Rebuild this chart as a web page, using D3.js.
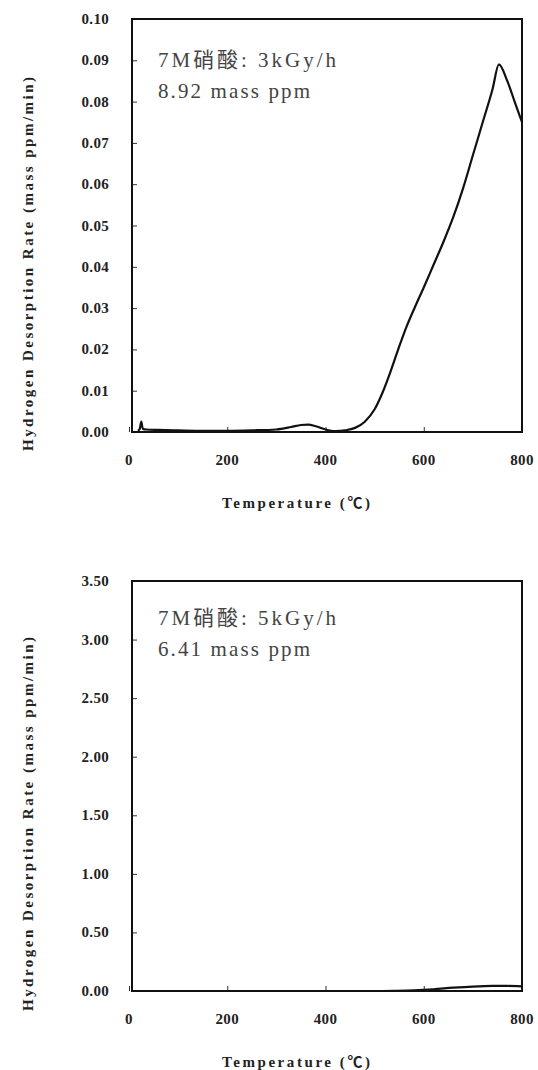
<!DOCTYPE html>
<html>
<head>
<meta charset="utf-8">
<script src="https://cdn.jsdelivr.net/npm/d3@7"></script>
<style>
  body { margin: 0; background: #fff; }
  svg { display: block; }
  text { font-family: "Liberation Serif", "Times New Roman", "Noto Sans CJK SC", serif; fill: #222; }
</style>
</head>
<body>
<div id="chart"></div>
<script>
// temperature ticks shared by both panels
const xTicks = [0, 200, 400, 600, 800]

// panel 1: 3kGy/h
const temps1 = [18, 22, 25, 28, 35, 60, 100, 150, 200, 250, 300, 330, 350, 365, 380, 400, 420, 440, 460, 480, 500, 516, 532, 548, 565, 583, 600, 620, 640, 660, 680, 700, 720, 740, 753, 770, 785, 800]
const rate1 = [0.0003, 0.0008, 0.0025, 0.0008, 0.0006, 0.0005, 0.0004, 0.0003, 0.0003, 0.0004, 0.0006, 0.0012, 0.0017, 0.0018, 0.0014, 0.0006, 0.0002, 0.0004, 0.001, 0.0025, 0.0055, 0.0095, 0.0145, 0.02, 0.0255, 0.0305, 0.035, 0.0405, 0.046, 0.052, 0.059, 0.067, 0.075, 0.083, 0.089, 0.085, 0.08, 0.075]
const yTicks1 = [0, 0.01, 0.02, 0.03, 0.04, 0.05, 0.06, 0.07, 0.08, 0.09, 0.10]
const note1 = ["7M硝酸: 3kGy/h", "8.92 mass ppm"]

// panel 2: 5kGy/h
const temps2 = [20, 100, 200, 300, 400, 500, 540, 580, 620, 660, 700, 740, 770, 800]
const rate2 = [0, 0, 0, 0, 0, 0, 0.002, 0.006, 0.015, 0.028, 0.038, 0.043, 0.043, 0.04]
const yTicks2 = [0, 0.5, 1.0, 1.5, 2.0, 2.5, 3.0, 3.5]
const note2 = ["7M硝酸: 5kGy/h", "6.41 mass ppm"]

const W = 538, H = 1070
let svg = d3.select("#chart").append("svg")
    .attr("width", W)
    .attr("height", H)

function drawPanel(opt){
    let g = svg.append("g")
    let x = d3.scaleLinear().domain([0, 800]).range([129, 522])
    let y = d3.scaleLinear().domain([0, opt.ymax]).range([opt.bottom, opt.top])
    let left = 132, right = 522

    // inward ticks
    g.append("g")
        .attr("transform", "translate(" + left + ",0)")
        .call(d3.axisRight(y).tickValues(opt.yTicks).tickSize(5).tickFormat(""))
        .call(a => a.select(".domain").remove())
        .selectAll("line").attr("stroke", "#333")
    g.append("g")
        .attr("transform", "translate(0," + opt.bottom + ")")
        .call(d3.axisTop(x).tickValues(xTicks).tickSize(5).tickFormat(""))
        .call(a => a.select(".domain").remove())
        .selectAll("line").attr("stroke", "#333")

    // tick labels
    g.selectAll(".ylab").data(opt.yTicks).enter().append("text")
        .attr("x", 109)
        .attr("y", d => y(d) + 5)
        .attr("text-anchor", "end")
        .style("font-size", "15px")
        .style("font-weight", "bold")
        .style("letter-spacing", "0.3px")
        .text(d => d.toFixed(2))
    g.selectAll(".xlab").data(xTicks).enter().append("text")
        .attr("x", d => x(d))
        .attr("y", opt.bottom + 33)
        .attr("text-anchor", "middle")
        .style("font-size", "15px")
        .style("font-weight", "bold")
        .style("letter-spacing", "0.3px")
        .text(d => d)

    // the curve
    let line = d3.line()
        .x(d => x(d[0]))
        .y(d => y(d[1]))
        .curve(d3.curveMonotoneX)
    g.append("path")
        .datum(opt.temps.map((t, i) => [t, opt.rate[i]]))
        .attr("d", line)
        .attr("fill", "none")
        .attr("stroke", "#111")
        .attr("stroke-width", 2.2)

    // frame
    g.append("rect")
        .attr("x", left)
        .attr("y", opt.top)
        .attr("width", right - left)
        .attr("height", opt.bottom - opt.top)
        .attr("fill", "none")
        .attr("stroke", "#111")
        .attr("stroke-width", 2)

    // annotation
    g.selectAll(".note").data(opt.note).enter().append("text")
        .attr("x", 158)
        .attr("y", (d, i) => opt.noteY + i * 31)
        .attr("textLength", (d, i) => i == 0 ? 178 : 152)
        .attr("lengthAdjust", "spacing")
        .style("font-size", "21px")
        .style("fill", "#444")
        .text(d => d)

    // axis titles
    g.append("text")
        .attr("x", 296)
        .attr("y", opt.bottom + 76)
        .attr("text-anchor", "middle")
        .attr("textLength", 148)
        .attr("lengthAdjust", "spacing")
        .style("font-size", "15px")
        .style("font-weight", "bold")
        .text("Temperature (℃)")
    let cy = opt.titleY
    g.append("text")
        .attr("transform", "translate(33," + cy + ") rotate(-90)")
        .attr("text-anchor", "middle")
        .attr("textLength", 374)
        .attr("lengthAdjust", "spacing")
        .style("font-size", "15px")
        .style("font-weight", "bold")
        .text("Hydrogen Desorption Rate (mass ppm/min)")
}

drawPanel({top: 19, bottom: 432, ymax: 0.10, yTicks: yTicks1, temps: temps1, rate: rate1, note: note1, noteY: 67, titleY: 264})
drawPanel({top: 581, bottom: 991, ymax: 3.5, yTicks: yTicks2, temps: temps2, rate: rate2, note: note2, noteY: 625, titleY: 824})
</script>
</body>
</html>
